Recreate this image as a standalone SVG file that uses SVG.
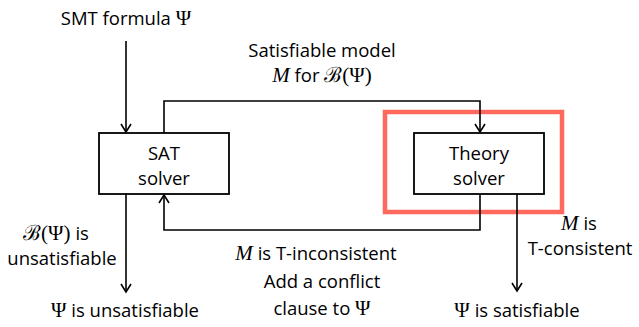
<svg xmlns="http://www.w3.org/2000/svg" width="639" height="327" viewBox="0 0 639 327">
  <style>
    .txt { font-family: "Open Sans", "Noto Sans", sans-serif; font-size: 18.5px; fill: #000; }
    .math { font-family: "Liberation Serif", "DejaVu Serif", serif; font-size: 21px; }
    .it { font-style: italic; }
    .box { fill: #fff; stroke: #000; stroke-width: 1.8; }
    .wire { fill: none; stroke: #000; stroke-width: 1.6; }
    .hl { fill: none; stroke: #FF685C; stroke-width: 4.5; }
  </style>
  <defs>
    <marker id="open" viewBox="0 0 12 12" refX="10" refY="6" markerWidth="12" markerHeight="12" markerUnits="userSpaceOnUse" orient="auto">
      <path d="M2,1 L10,6 L2,11" fill="none" stroke="#000" stroke-width="1.6"/>
    </marker>
  </defs>

  <rect width="639" height="327" fill="#fff"/>

  <!-- highlight around the theory solver -->
  <rect class="hl" x="385" y="112" width="177" height="100"/>

  <g id="connectors">
    <line class="wire" x1="126" y1="41" x2="126" y2="132" marker-end="url(#open)"/>
    <polyline class="wire" points="164,133 164,101 480,101 480,132" marker-end="url(#open)"/>
    <polyline class="wire" points="480,194 480,230 164,230 164,195" marker-end="url(#open)"/>
    <line class="wire" x1="126" y1="194" x2="126" y2="292" marker-end="url(#open)"/>
    <line class="wire" x1="517" y1="194" x2="517" y2="291" marker-end="url(#open)"/>
  </g>

  <g id="sat-solver">
    <rect class="box" x="99" y="133" width="130" height="61"/>
    <text class="txt" x="164" y="160" text-anchor="middle">SAT</text>
    <text class="txt" x="164" y="185" text-anchor="middle">solver</text>
  </g>

  <g id="theory-solver">
    <rect class="box" x="414" y="133" width="130" height="61"/>
    <text class="txt" x="479" y="160" text-anchor="middle">Theory</text>
    <text class="txt" x="479" y="185" text-anchor="middle">solver</text>
  </g>

  <g id="labels">
    <text class="txt" x="126" y="25" text-anchor="middle">SMT formula <tspan class="math">Ψ</tspan></text>

    <text class="txt" x="322" y="57" text-anchor="middle">Satisfiable model</text>
    <text class="txt" x="322" y="82" text-anchor="middle"><tspan class="math it">M</tspan> for <tspan class="math">ℬ(Ψ)</tspan></text>

    <text class="txt" x="56" y="240" text-anchor="middle"><tspan class="math">ℬ(Ψ)</tspan> is</text>
    <text class="txt" x="62" y="265" text-anchor="middle">unsatisfiable</text>
    <text class="txt" x="125" y="317" text-anchor="middle"><tspan class="math">Ψ</tspan> is unsatisfiable</text>

    <text class="txt" x="316" y="260" text-anchor="middle"><tspan class="math it">M</tspan> is T-inconsistent</text>
    <text class="txt" x="322" y="288" text-anchor="middle">Add a conflict</text>
    <text class="txt" x="322" y="315" text-anchor="middle">clause to <tspan class="math">Ψ</tspan></text>

    <text class="txt" x="579" y="230" text-anchor="middle"><tspan class="math it">M</tspan> is</text>
    <text class="txt" x="580" y="255" text-anchor="middle">T-consistent</text>
    <text class="txt" x="517" y="317" text-anchor="middle"><tspan class="math">Ψ</tspan> is satisfiable</text>
  </g>
</svg>
